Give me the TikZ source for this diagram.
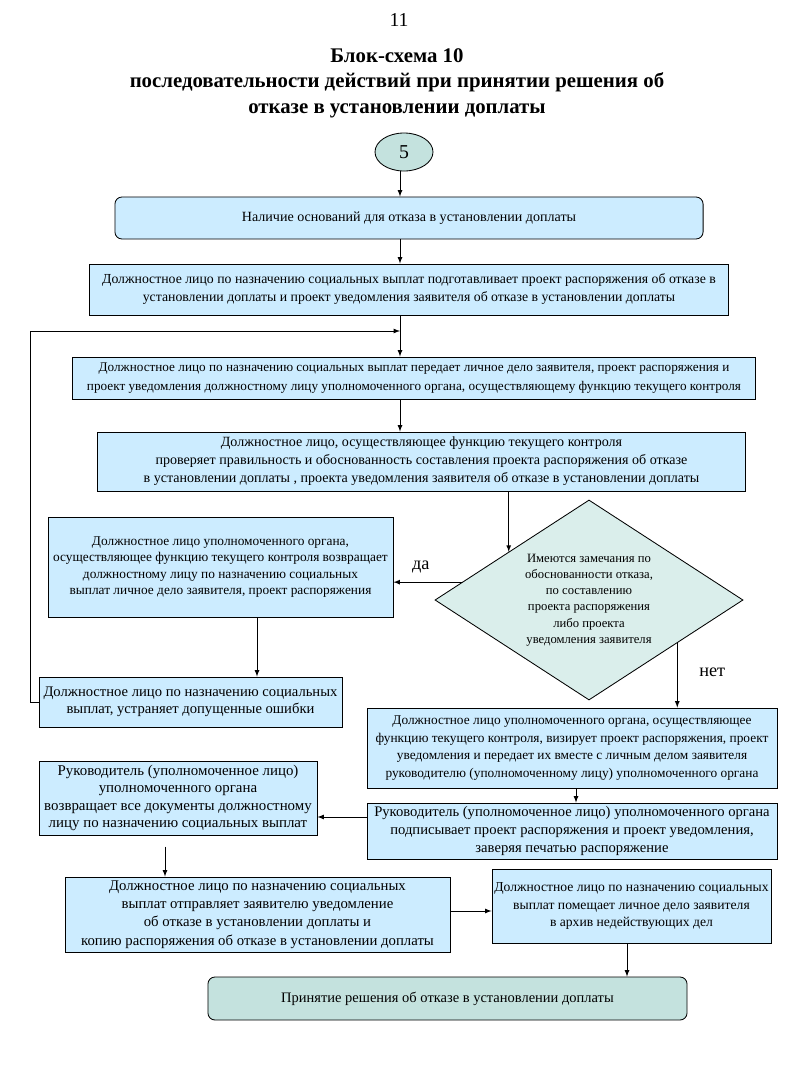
\documentclass[tikz,border=0pt]{standalone}
\usepackage{fontspec}
\setmainfont{Liberation Serif}
\usetikzlibrary{arrows, calc, shapes.geometric}
\definecolor{goluboy}{RGB}{204,236,255}
\definecolor{myata}{RGB}{218,238,235}
\definecolor{biryuza}{RGB}{196,226,222}

\begin{document}
\begin{tikzpicture}[x=0.025cm, y=-0.025cm, line width=0.6pt,
	blok/.style={draw, fill=goluboy, align=center, inner sep=0pt, font=\fontsize{10}{12.8}\selectfont},
	krugly/.style={blok, rounded corners=5pt},
	metka/.style={font=\fontsize{13}{15}\selectfont}]
	\useasboundingbox (0,0) rectangle (800,1066);
	%
	\node[font=\fontsize{14}{16}\selectfont] (nomer) at (399,20) {11};
	\node[font=\bfseries\fontsize{14.8}{18.2}\selectfont, align=center] (zagolovok) at (397,83) {Блок-схема 10\\последовательности действий при принятии решения об\\отказе в установлении доплаты};
	%
	\node[draw, ellipse, fill=biryuza, minimum width=1.45cm, minimum height=0.95cm, inner sep=0pt, font=\fontsize{14}{16}\selectfont] (nachalo) at (404,152) {5};
	\node[krugly, minimum width=14.7cm, minimum height=1.05cm] (nalichie) at (409,218) {Наличие оснований для отказа в установлении доплаты};
	\node[blok, minimum width=15.95cm, minimum height=1.275cm, font=\fontsize{9.8}{12.8}\selectfont] (podgotovka) at (409,289.5) {Должностное лицо по назначению социальных выплат подготавливает проект распоряжения об отказе в\\установлении доплаты и проект уведомления заявителя об отказе в установлении доплаты};
	\node[blok, minimum width=17.05cm, minimum height=1.05cm, font=\fontsize{9.4}{13}\selectfont] (peredacha) at (414,378) {Должностное лицо по назначению социальных выплат передает личное дело заявителя, проект распоряжения и\\проект уведомления должностному лицу уполномоченного органа, осуществляющему функцию текущего контроля};
	\node[blok, minimum width=16.175cm, minimum height=1.475cm] (proverka) at (421.5,461.5) {Должностное лицо, осуществляющее функцию текущего контроля\\проверяет правильность и обоснованность составления проекта распоряжения об отказе\\в установлении доплаты , проекта уведомления заявителя об отказе в установлении доплаты};
	\node[draw, diamond, fill=myata, shape aspect=1.54, minimum width=7.7cm, minimum height=5cm, inner sep=0pt, align=center, font=\fontsize{9}{11.5}\selectfont] (zamechaniya) at (589,600) {Имеются замечания по\\обоснованности отказа,\\по составлению\\проекта распоряжения\\либо проекта\\уведомления заявителя};
	\node[blok, minimum width=8.625cm, minimum height=2.5cm, font=\fontsize{9.5}{11.5}\selectfont] (vozvrashchaet) at (220.5,567) {Должностное лицо уполномоченного органа,\\осуществляющее функцию текущего контроля возвращает\\должностному лицу по назначению социальных\\выплат личное дело заявителя, проект распоряжения};
	\node[blok, minimum width=7.575cm, minimum height=1.25cm, font=\fontsize{10.4}{12.2}\selectfont] (ustranyaet) at (190.5,702) {Должностное лицо по назначению социальных\\выплат, устраняет допущенные ошибки};
	\node[blok, minimum width=10.25cm, minimum height=2cm, font=\fontsize{9.5}{12.5}\selectfont] (viziruet) at (572,748) {Должностное лицо уполномоченного органа, осуществляющее\\функцию текущего контроля, визирует проект распоряжения, проект\\уведомления и передает их вместе с личным делом заявителя\\руководителю (уполномоченному лицу) уполномоченного органа};
	\node[blok, minimum width=10.25cm, minimum height=1.4cm, font=\fontsize{10.4}{12.5}\selectfont] (podpisyvaet) at (572,831) {Руководитель (уполномоченное лицо) уполномоченного органа\\подписывает проект распоряжения и проект уведомления,\\заверяя печатью распоряжение};
	\node[blok, minimum width=6.95cm, minimum height=1.85cm, font=\fontsize{10.6}{12.2}\selectfont] (rukovoditel) at (178,798) {Руководитель (уполномоченное лицо)\\уполномоченного органа\\возвращает все документы должностному\\лицу по назначению социальных выплат};
	\node[blok, minimum width=9.625cm, minimum height=1.875cm, font=\fontsize{10.5}{13}\selectfont] (otpravlyaet) at (257.5,914.5) {Должностное лицо по назначению социальных\\выплат отправляет заявителю уведомление\\об отказе в установлении доплаты и\\копию распоряжения об отказе в установлении доплаты};
	\node[blok, minimum width=6.975cm, minimum height=1.85cm, font=\fontsize{9.7}{12.2}\selectfont] (arkhiv) at (631.5,906) {Должностное лицо по назначению социальных\\выплат помещает личное дело заявителя\\в архив недействующих дел};
	\node[krugly, fill=biryuza, minimum width=11.975cm, minimum height=1.075cm, font=\fontsize{10.3}{12.8}\selectfont] (reshenie) at (447.5,998.5) {Принятие решения об отказе в установлении доплаты};
	%
	\coordinate (os) at (400,0);
	\coordinate (petlya) at (30,0);
	\coordinate (vozvrat) at (400,331);
	\coordinate (levaya) at (257,0);
	\coordinate (pravaya) at (576,0);
	\coordinate (podpis) at (0,817);
	\coordinate (nizhnyaya) at (165,0);
	\coordinate (arkhivnaya) at (0,911);
	\coordinate (konec) at (627,0);
	%
	\draw[-latex] (os |- nachalo.south) -- (os |- nalichie.north);
	\draw[-latex] (os |- nalichie.south) -- (os |- podgotovka.north);
	\draw[-latex] (os |- podgotovka.south) -- (os |- peredacha.north);
	\draw[-latex] (os |- peredacha.south) -- (os |- proverka.north);
	\draw[-latex] (ustranyaet.west) -- (ustranyaet.west -| petlya) |- (vozvrat);
	\draw[-latex] (zamechaniya.149 |- proverka.south) -- (zamechaniya.149);
	\draw[-latex] (zamechaniya.172.4) -- (zamechaniya.172.4 -| vozvrashchaet.east) node[metka, above=3pt, pos=0.6] (da) {да};
	\draw[-latex] (zamechaniya.-26) -- (zamechaniya.-26 |- viziruet.north) node[metka, right=12pt, pos=0.45] (net) {нет};
	\draw[-latex] (levaya |- vozvrashchaet.south) -- (levaya |- ustranyaet.north);
	\draw[-latex] (pravaya |- viziruet.south) -- (pravaya |- podpisyvaet.north);
	\draw[-latex] (podpis -| podpisyvaet.west) -- (podpis -| rukovoditel.east);
	\draw[-latex, shorten <=8pt] (nizhnyaya |- rukovoditel.south) -- (nizhnyaya |- otpravlyaet.north);
	\draw[-latex] (arkhivnaya -| otpravlyaet.east) -- (arkhivnaya -| arkhiv.west);
	\draw[-latex] (konec |- arkhiv.south) -- (konec |- reshenie.north);
\end{tikzpicture}
\end{document}
